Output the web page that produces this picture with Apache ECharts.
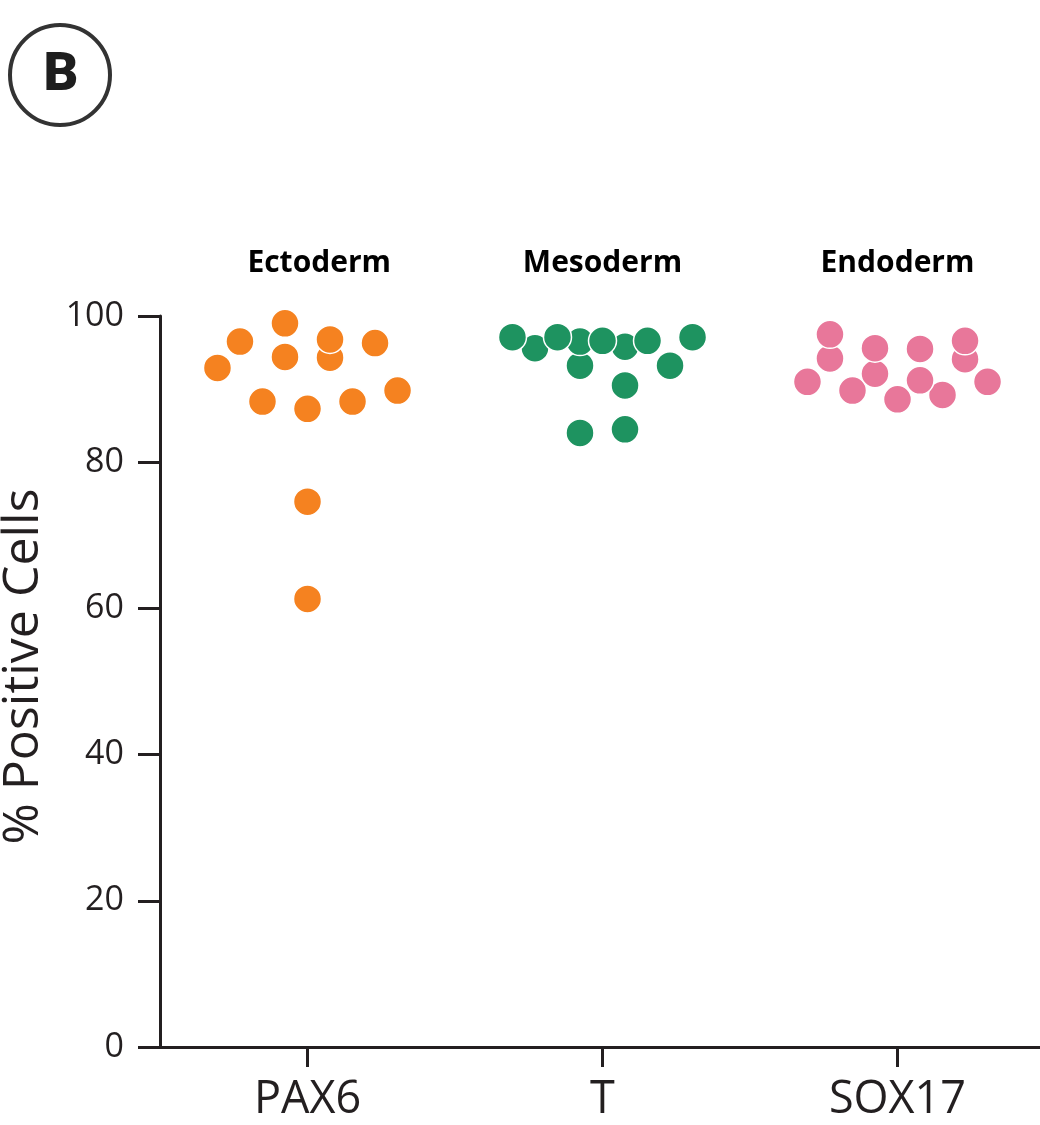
<!DOCTYPE html>
<html>
<head>
<meta charset="utf-8">
<script src="https://cdn.jsdelivr.net/npm/echarts@6/dist/echarts.min.js"></script>
<style>
html,body{margin:0;padding:0;background:#fff;}
#chart{width:1040px;height:1125px;}
</style>
</head>
<body>
<div id="chart"></div>
<script>
// ---- data ----
var markers = ['PAX6', 'T', 'SOX17'];
var layers = ['Ectoderm', 'Mesoderm', 'Endoderm'];
var yTicks = [0, 20, 40, 60, 80, 100];

// % positive cells per replicate
var pax6Values  = [61.3, 74.6, 87.3, 88.3, 88.3, 89.8, 92.9, 94.4, 94.3, 96.3, 96.5, 96.8, 99.0];
var tValues     = [84.0, 84.5, 90.5, 93.2, 93.2, 95.6, 95.8, 96.5, 96.6, 96.6, 97.1, 97.1, 97.1];
var sox17Values = [88.6, 89.2, 89.8, 91.0, 91.0, 91.2, 92.1, 94.1, 94.2, 95.5, 95.6, 96.6, 97.5];

// swarm column (horizontal slot) of each replicate
var pax6Slots  = [0, 0, 0, -2, 2, 4, -4, -1, 1, 3, -3, 1, -1];
var tSlots     = [-1, 1, 1, -1, 3, -3, 1, -1, 0, 2, -4, -2, 4];
var sox17Slots = [0, 2, -2, -4, 4, 1, -1, 3, -3, 1, -1, 3, -3];

var colors = ['#F58220', '#1E9360', '#E8779A'];
var slotWidth = 0.0763;

function build(catIdx, values, slots) {
  return values.map(function (v, i) { return [catIdx + slots[i] * slotWidth, v]; });
}

var groups = [
  build(0, pax6Values, pax6Slots),
  build(1, tValues, tSlots),
  build(2, sox17Values, sox17Slots)
];

var textColor = '#231f20';
var font = '"Open Sans", "Noto Sans", sans-serif';

var chart = echarts.init(document.getElementById('chart'), null, {renderer: 'canvas'});
chart.setOption({
  animation: false,
  backgroundColor: '#ffffff',
  grid: {left: 160, right: -5, top: 316, bottom: 78, containLabel: false, outerBoundsMode: 'none'},
  xAxis: [
    {
      type: 'category', data: markers, position: 'bottom', boundaryGap: true,
      axisLine: {show: true, onZero: false, lineStyle: {color: textColor, width: 3}},
      axisTick: {show: true, alignWithLabel: true, length: 20, lineStyle: {color: textColor, width: 3}},
      axisLabel: {fontSize: 45, color: textColor, margin: 31, fontFamily: font},
      splitLine: {show: false}
    },
    {type: 'value', min: -0.5, max: 2.5, show: false},
    {
      type: 'category', data: layers, position: 'top', boundaryGap: true,
      axisLine: {show: false}, axisTick: {show: false}, splitLine: {show: false},
      axisLabel: {fontSize: 30, fontWeight: 'bold', color: '#000', margin: 38, fontFamily: font,
        formatter: function (v, i) { return i === 0 ? '   ' + v : v; }}
    }
  ],
  yAxis: {
    type: 'value', min: 0, max: 100, interval: 20,
    name: '% Positive Cells', nameLocation: 'middle', nameGap: 111,
    nameTextStyle: {fontSize: 50, color: textColor, fontFamily: font, padding: [0, 0, 0, 30]},
    axisLine: {show: true, onZero: false, lineStyle: {color: textColor, width: 3}},
    axisTick: {show: true, length: 22, lineStyle: {color: textColor, width: 3}},
    axisLabel: {fontSize: 34, color: textColor, margin: 36, fontFamily: font,
      formatter: function (v) { return yTicks.indexOf(v) >= 0 ? String(v) : ''; }},
    splitLine: {show: false}
  },
  series: groups.map(function (d, i) {
    return {
      type: 'scatter', xAxisIndex: 1, yAxisIndex: 0, data: d,
      symbol: 'circle', symbolSize: 28,
      itemStyle: {color: colors[i], borderColor: '#ffffff', borderWidth: 1.5, opacity: 1}
    };
  }),
  graphic: [
    {type: 'circle', shape: {cx: 60, cy: 75, r: 50}, style: {fill: '#fff', stroke: '#333', lineWidth: 4}},
    {type: 'text', x: 61, y: 76, style: {text: 'B', fill: '#1e1e1e', font: '900 54px Roboto, "Open Sans", sans-serif', textAlign: 'center', textVerticalAlign: 'middle'}}
  ]
});
</script>
</body>
</html>
